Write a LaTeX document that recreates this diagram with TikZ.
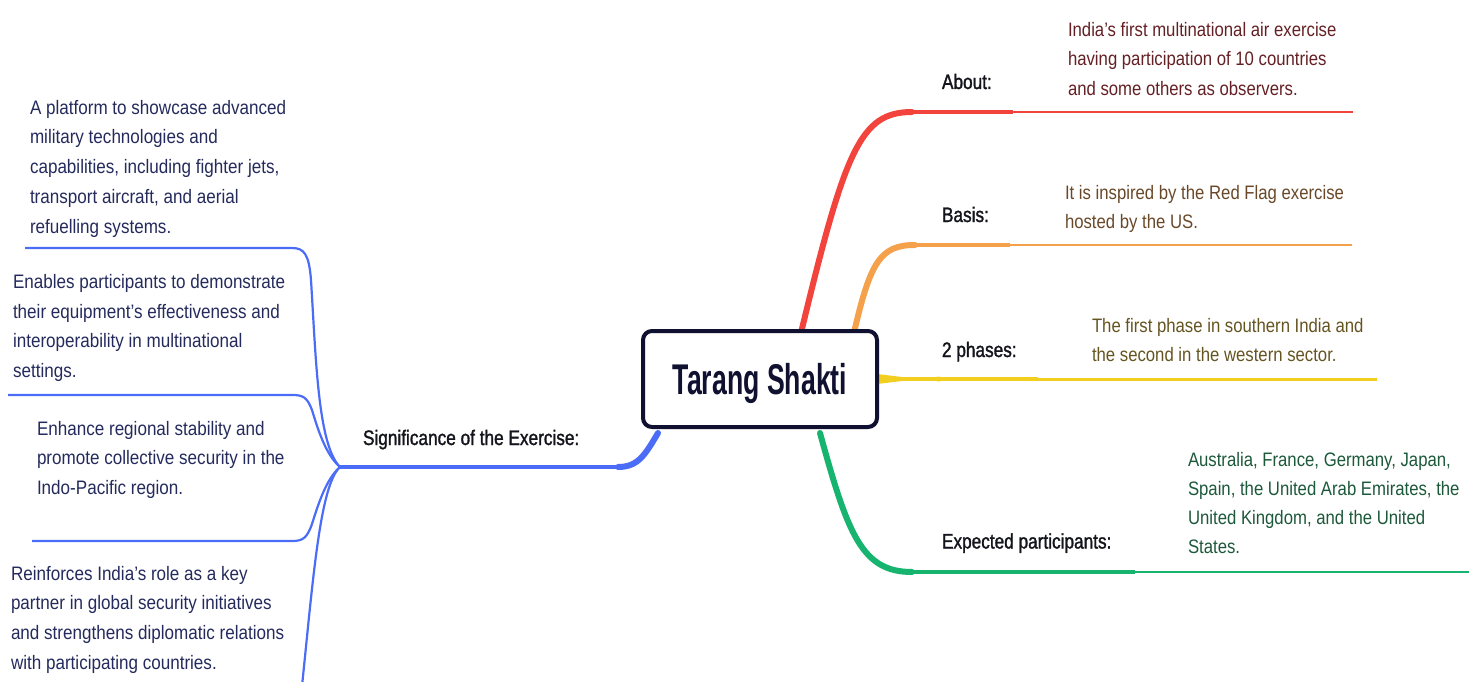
\documentclass[tikz,border=0pt]{standalone}
\usepackage{fontspec}
\usetikzlibrary{backgrounds}
\newfontfamily\bodyfont[FakeStretch=0.875]{Liberation Sans}
\newfontfamily\rbodyfont[FakeStretch=0.858]{Liberation Sans}
\newfontfamily\labelfont[FakeStretch=0.82,FakeBold=1.4]{Liberation Sans}
\newfontfamily\titlefont[FakeStretch=0.62]{Liberation Sans}
\definecolor{cred}{RGB}{242,68,60}
\definecolor{corange}{RGB}{245,160,75}
\definecolor{cyellow}{RGB}{242,206,30}
\definecolor{cgreen}{RGB}{22,180,110}
\definecolor{cblue}{RGB}{75,108,247}
\definecolor{cnavy}{RGB}{16,16,48}
\definecolor{tred}{RGB}{100,32,36}
\definecolor{torange}{RGB}{105,72,40}
\definecolor{tyellow}{RGB}{100,84,32}
\definecolor{tgreen}{RGB}{28,88,58}
\definecolor{tblue}{RGB}{36,42,92}
\definecolor{tlabel}{RGB}{20,20,28}
\newcommand\rlines[1]{\parbox[t]{420pt}{\raggedright\fontsize{19.5}{29.2}\selectfont #1}}
\newcommand\llines[1]{\parbox[t]{420pt}{\raggedright\fontsize{19.5}{29.7}\selectfont #1}}
\begin{document}
\begin{tikzpicture}[x=1pt,y=-1pt,
  every node/.style={inner sep=0pt,outer sep=0pt},
  rootbox/.style={draw=cnavy,line width=4pt,rounded corners=9pt,fill=white,
    minimum width=234pt,minimum height=96pt,text height=31pt,text depth=0pt,
    font=\titlefont\bfseries\fontsize{43}{50}\selectfont,text=cnavy},
  lab/.style={anchor=base west,font=\labelfont\fontsize{21}{25}\selectfont,text=tlabel},
  body/.style={anchor=base west,font=\bodyfont},
  rbody/.style={anchor=base west,font=\rbodyfont},
  thick branch/.style={line width=6pt,line cap=round},
  mid branch/.style={line width=3.6pt},
  thin branch/.style={line width=2.6pt},
  sub branch/.style={draw=cblue,line width=2.2pt}]
\useasboundingbox (0,0) rectangle (1469,682);

\node[rootbox] (root) at (760,379) {Tarang Shakti};

% labels
\node[lab] (labA) at (942,89) {About:};
\node[lab] (labB) at (942,222) {Basis:};
\node[lab] (labC) at (942,357) {2 phases:};
\node[lab] (labD) at (942,548.5) {Expected participants:};
\node[lab] (labS) at (363,445) {Significance of the Exercise:};

% right texts
\node[rbody,text=tred] (txtA) at (1068,36.7) {\rlines{India’s first multinational air exercise\\having participation of 10 countries\\and some others as observers.}};
\node[rbody,text=torange] (txtB) at (1065,199.5) {\rlines{It is inspired by the Red Flag exercise\\hosted by the US.}};
\node[rbody,text=tyellow] (txtC) at (1092,332.5) {\rlines{The first phase in southern India and\\the second in the western sector.}};
\node[rbody,text=tgreen] (txtD) at (1188,466) {\rlines{Australia, France, Germany, Japan,\\Spain, the United Arab Emirates, the\\United Kingdom, and the United\\States.}};

% left texts
\node[body,text=tblue] (txt1) at (30,114.3) {\llines{A platform to showcase advanced\\military technologies and\\capabilities, including fighter jets,\\transport aircraft, and aerial\\refuelling systems.}};
\node[body,text=tblue] (txt2) at (13,288.3) {\llines{Enables participants to demonstrate\\their equipment’s effectiveness and\\interoperability in multinational\\settings.}};
\node[body,text=tblue] (txt3) at (37,435) {\llines{Enhance regional stability and\\promote collective security in the\\Indo-Pacific region.}};
\node[body,text=tblue] (txt4) at (11,580) {\llines{Reinforces India’s role as a key\\partner in global security initiatives\\and strengthens diplomatic relations\\with participating countries.}};

% end coordinates
\coordinate (endA) at (1353,112);
\coordinate (endB) at (1352,245);
\coordinate (endC) at (1377,379);
\coordinate (endD) at (1469,572);
\coordinate (hub) at (340,467);
\coordinate (u1) at (25,248);
\coordinate (u2) at (8,395);
\coordinate (u3) at (32,541);
\coordinate (u4) at (302,686);

\begin{scope}[on background layer]
% red
\draw[cred,thick branch] ([xshift=40pt,yshift=-6pt]root.north) .. controls (845,150) and (860,112) .. (912,112);
\draw[cred,mid branch] (905,112) -- (1013,112);
\draw[cred,thin branch] (1013,112) -- (endA);
% orange
\draw[corange,thick branch] ([xshift=93pt,yshift=-6pt]root.north) .. controls (870,262) and (880,245) .. (915,245);
\draw[corange,mid branch] (908,245) -- (1010,245);
\draw[corange,thin branch] (1010,245) -- (endB);
% yellow
\fill[cyellow] ([yshift=-5pt]root.east) -- (940,376.5) -- (940,381.5) -- ([yshift=5pt]root.east) -- cycle;
\draw[cyellow,mid branch] (root.east) -- (1038,379);
\draw[cyellow,line width=3pt] (1038,379) -- (endC);
% green
\draw[cgreen,thick branch] ([xshift=60pt,yshift=-6pt]root.south) .. controls (848,535) and (862,572) .. (912,572);
\draw[cgreen,mid branch] (905,572) -- (1135,572);
\draw[cgreen,thin branch] (1135,572) -- (endD);
% blue main
\draw[cblue,thick branch] ([xshift=-102pt,yshift=-6pt]root.south) .. controls (645,455) and (638,467) .. (618,467);
\draw[cblue,line width=4pt] (622,467) -- (hub);
% blue sub-branches
\draw[sub branch] (hub) .. controls (318,445) and (316,360) .. (311,280) .. controls (309,254) and (304,248) .. (292,248) -- (u1);
\draw[sub branch] (hub) .. controls (326,455) and (318,430) .. (312,410) .. controls (307,397) and (303,395) .. (292,395) -- (u2);
\draw[sub branch] (hub) .. controls (326,479) and (318,505) .. (312,524) .. controls (307,538) and (303,541) .. (292,541) -- (u3);
\draw[sub branch] (hub) .. controls (320,485) and (313,580) .. (u4);
\end{scope}
\end{tikzpicture}
\end{document}
